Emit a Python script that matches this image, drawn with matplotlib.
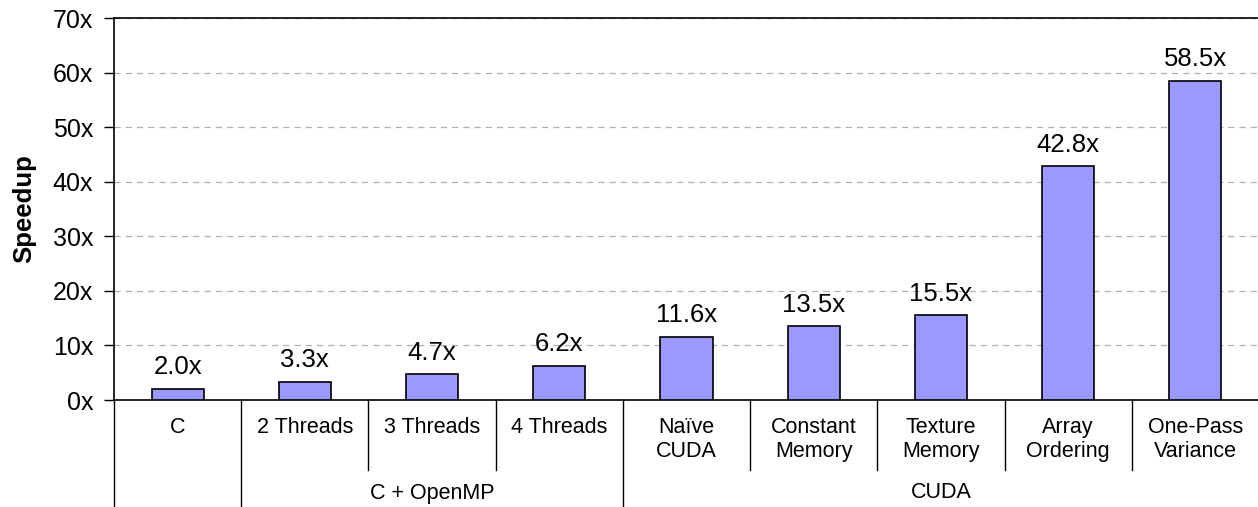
import matplotlib.pyplot as plt
from matplotlib.ticker import FuncFormatter

# chart data
categories = ['C', '2 Threads', '3 Threads', '4 Threads', 'Naïve\nCUDA',
              'Constant\nMemory', 'Texture\nMemory', 'Array\nOrdering',
              'One-Pass\nVariance']
speedup = [2.0, 3.3, 4.7, 6.2, 11.6, 13.5, 15.5, 42.8, 58.5]
groups = ['', 'C + OpenMP', 'CUDA']
group_spans = [(0, 0), (1, 3), (4, 8)]


def main():
    plot_speedup()


def plot_speedup():
    plt.rcParams['font.family'] = ['Liberation Sans', 'DejaVu Sans']

    fig = plt.figure(figsize=(12.58, 5.07), dpi=100)
    ax = fig.add_axes([114 / 1258, 107 / 507, 1145 / 1258, 382 / 507])

    x = list(range(len(categories)))
    ax.bar(x, speedup, width=0.41, color='#9999ff', edgecolor='black',
           linewidth=1.2, zorder=3)

    # value labels
    for xi, v in zip(x, speedup):
        ax.annotate('%.1fx' % v, (xi, v), xytext=(0, 7),
                    textcoords='offset points', ha='center', va='bottom',
                    fontsize=18.5)

    # axis make-up
    ax.set_xlim(-0.5, len(categories) - 0.5)
    ax.set_ylim(0, 70)
    ax.set_yticks(range(0, 71, 10))
    ax.yaxis.set_major_formatter(FuncFormatter(lambda v, p: '%dx' % v))
    ax.tick_params(axis='y', labelsize=18, length=7, width=1, pad=8)
    ax.set_xticks([])
    ax.grid(axis='y', linestyle=(0, (5, 4)), color='#b0b0b0', linewidth=0.9,
            zorder=0)
    ax.spines['right'].set_visible(False)
    for s in ['left', 'top', 'bottom']:
        ax.spines[s].set_linewidth(1.2)
    ax.set_ylabel('Speedup', fontsize=18.5, fontweight='bold', labelpad=12)

    # hierarchical category axis
    tr = ax.get_xaxis_transform()
    y_inner = -70 / 382
    y_outer = -107 / 382
    group_edges = set()
    for a, b in group_spans:
        group_edges.add(a - 0.5)
        group_edges.add(b + 0.5)
    for i in range(len(categories) + 1):
        edge = i - 0.5
        low = y_outer if edge in group_edges else y_inner
        ax.plot([edge, edge], [0, low], color='black', linewidth=1,
                transform=tr, clip_on=False)
    for xi, label in zip(x, categories):
        ax.text(xi, -17 / 382, label, transform=tr, ha='center', va='top',
                fontsize=15.5, linespacing=1.2)
    for name, (a, b) in zip(groups, group_spans):
        ax.text((a + b) / 2, -93 / 382, name, transform=tr, ha='center',
                va='center', fontsize=15.5)

    fig.savefig('out.png', dpi=100)


if __name__ == '__main__':
    main()
